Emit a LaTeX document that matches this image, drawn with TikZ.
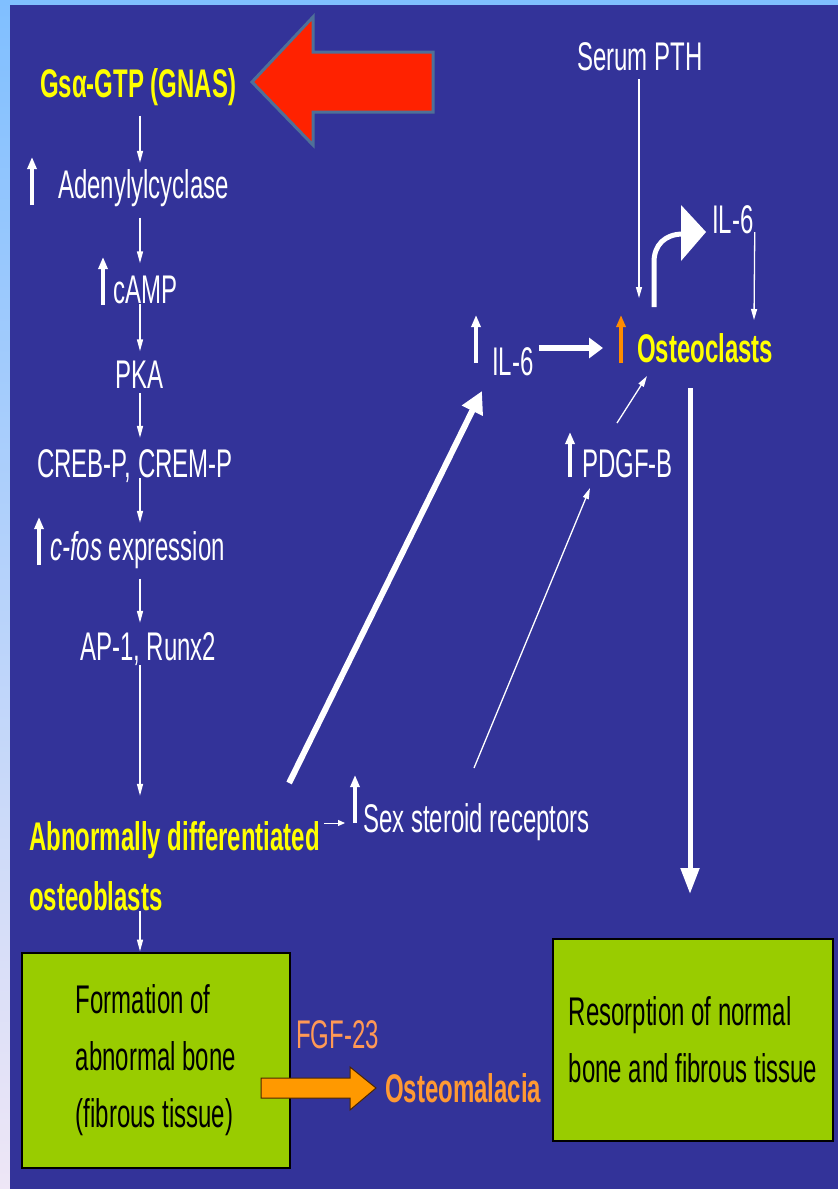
\documentclass[tikz,border=0pt]{standalone}
\usepackage{fontspec}
\setmainfont{Liberation Sans}[FakeStretch=0.6]
\usetikzlibrary{arrows.meta,calc}
\definecolor{bgblue}{HTML}{333399}
\definecolor{lblue}{HTML}{80BFFF}
\definecolor{lpale}{HTML}{EEE6F6}
\definecolor{ytext}{HTML}{FFFF00}
\definecolor{otext}{HTML}{FF9933}
\definecolor{otext2}{HTML}{FF9955}
\definecolor{boxgreen}{HTML}{99CC00}
\definecolor{redarr}{HTML}{FF2200}
\definecolor{redline}{HTML}{4F7098}
\definecolor{orarr}{HTML}{FF9900}
\definecolor{upor}{HTML}{FF8C00}
\begin{document}
\begin{tikzpicture}[x=1pt,y=-1pt,
  every node/.style={inner sep=0pt},
  lbl/.style={anchor=base west, text=white, font=\fontsize{40}{57}\selectfont},
  ylbl/.style={lbl, text=ytext, font=\fontsize{40}{57}\selectfont\bfseries},
  olbl/.style={lbl, text=otext, font=\fontsize{40}{57}\selectfont\bfseries},
  greenbox/.style={draw=black, line width=2pt, fill=boxgreen, text=black, align=left, font=\fontsize{40}{57}\selectfont},
  colarr/.style={draw=white, line width=1.5pt, -{Triangle[length=12pt,width=6pt]}},
  thinarr/.style={draw=white, line width=1.3pt, -{Triangle[length=11pt,width=6pt]}},
  smallarr/.style={draw=white, line width=1pt, -{Triangle[length=7pt,width=6pt]}},
  uparr/.style={draw=white, line width=4pt, -{Triangle[length=12pt,width=9pt]}},
  bigarr/.style={draw=white, line width=6pt, -{Triangle[length=22pt,width=22pt]}}
]
\useasboundingbox (0,0) rectangle (838,1189);
\fill[lblue] (0,0) rectangle (838,1189);
\shade[top color=lblue, bottom color=lpale] (0,0) rectangle (10,1189);
\fill[bgblue] (10,5) rectangle (838,1189);

% red arrow
\draw[redline, line width=3pt, fill=redarr, line join=miter] (252,82) -- (313,17) -- (313,52) -- (433,52) -- (433,112) -- (313,112) -- (313,145) -- cycle;

% left column
\coordinate (col) at (140,0);
\node[ylbl] (gs) at (40,97) {Gsα-GTP (GNAS)};
\node[lbl] (ady) at (58,198) {Adenylylcyclase};
\node[lbl] (camp) at (113,303) {cAMP};
\node[lbl] (pka) at (115,388) {PKA};
\node[lbl] (creb) at (37,477) {CREB-P, CREM-P};
\node[lbl] (cfos) at (50,560) {\textit{c-fos} expression};
\node[lbl] (ap1) at (80,660) {AP-1, Runx2};
\node[ylbl] (abn1) at (29,850) {Abnormally differentiated};
\node[ylbl] (abn2) at (29,910) {osteoblasts};
\node[lbl] (sex) at (363,832) {Sex steroid receptors};

% boxes
\node[greenbox, minimum width=268pt, minimum height=215pt] (form) at (156,1060) {Formation of\\abnormal bone\\(fibrous tissue)};
\node[greenbox, minimum width=280pt, minimum height=202pt] (res) at (693,1040) {Resorption of normal\\bone and fibrous tissue};

\draw[uparr] ($(ady.base west)+(-26,7)$) -- ++(0,-48);
\draw[uparr] ($(camp.base west)+(-10,2)$) -- ++(0,-48);
\draw[uparr] ($(cfos.base west)+(-11,5)$) -- ++(0,-48);
\draw[uparr] ($(sex.base west)+(-8,-9)$) -- ++(0,-48);

\draw[colarr, shorten <=10pt, shorten >=6pt] (gs.south -| col) -- (ady.north -| col);
\draw[colarr, shorten <=11pt, shorten >=12pt] (ady.south -| col) -- (camp.north -| col);
\draw[colarr, shorten >=9pt] (camp.south -| col) -- (pka.north -| col);
\draw[colarr, shorten <=5pt, shorten >=11pt] (pka.south -| col) -- (creb.north -| col);
\draw[colarr, shorten <=1pt, shorten >=8pt] (creb.base -| col) -- (cfos.north -| col);
\draw[colarr, shorten <=10pt, shorten >=9pt] (cfos.south -| col) -- (ap1.north -| col);
\draw[colarr, shorten >=25pt] (ap1.south -| col) -- (abn1.north -| col);
\draw[colarr] (abn2.south -| col) -- (form.north -| col);
\draw[smallarr] ($(abn1.base east)+(4,-27)$) -- ($(sex.base west)+(-18,-9)$);

\node[lbl, text=otext2] (fgf) at (296,1048) {FGF-23};
\node[olbl] (osm) at (385,1102) {Osteomalacia};
\draw[draw=black!70!orange, fill=orarr, line width=1pt] (261,1078) -- (350,1078) -- (350,1067) -- (376,1088) -- (350,1110) -- (350,1098) -- (261,1098) -- cycle;

% right part
\node[lbl] (pth) at (577,70) {Serum PTH};
\node[lbl] (il6b) at (712,233) {IL-6};
\node[lbl] (il6a) at (492,375) {IL-6};
\node[ylbl] (osteo) at (637,362) {Osteoclasts};
\node[lbl] (pdgf) at (582,477) {PDGF-B};

\draw[uparr] ($(il6a.base west)+(-16,-12)$) -- ++(0,-48);
\draw[uparr, draw=upor] ($(osteo.base west)+(-16,1)$) -- ++(0,-48);
\draw[uparr] ($(pdgf.base west)+(-12,0)$) -- ++(0,-45);

\draw[thinarr] ($(pth.base west)+(62,9)$) -- ($(osteo.base west)+(2,-64)$);
\draw[thinarr] ($(il6b.base east)+(1,-1)$) -- ($(osteo.base west)+(117,-42)$);
\draw[white, line width=6pt, -{Triangle[length=14pt,width=20pt]}] ($(il6a.base east)+(5,-27)$) -- ($(osteo.base west)+(-34,-14)$);
\draw[thinarr] ($(pdgf.base west)+(35,-54)$) -- ($(osteo.base west)+(10,14)$);
\draw[bigarr] ($(abn1.base east)+(-31,-67)$) -- ($(il6a.base west)+(-10,16)$);
\draw[thinarr] ($(sex.base west)+(111,-64)$) -- ($(pdgf.base west)+(8,11)$);
\draw[white, line width=5pt, -{Triangle[length=26pt,width=18pt]}] ($(osteo.base west)+(53,26)$) -- ($(res.north)+(-3,-44)$);

% curved arrow to IL-6
\coordinate (c0) at ($(osteo.base west)+(17,-55)$);
\draw[white, line width=5pt] (c0) -- ($(c0)+(0,-45)$) .. controls ($(c0)+(0,-62)$) and ($(c0)+(11,-73)$) .. ($(c0)+(29,-73)$);
\fill[white] ($(il6b.base west)+(-31,-28)$) -- ($(il6b.base west)+(-6,-1)$) -- ($(il6b.base west)+(-31,28)$) -- cycle;
\end{tikzpicture}
\end{document}
